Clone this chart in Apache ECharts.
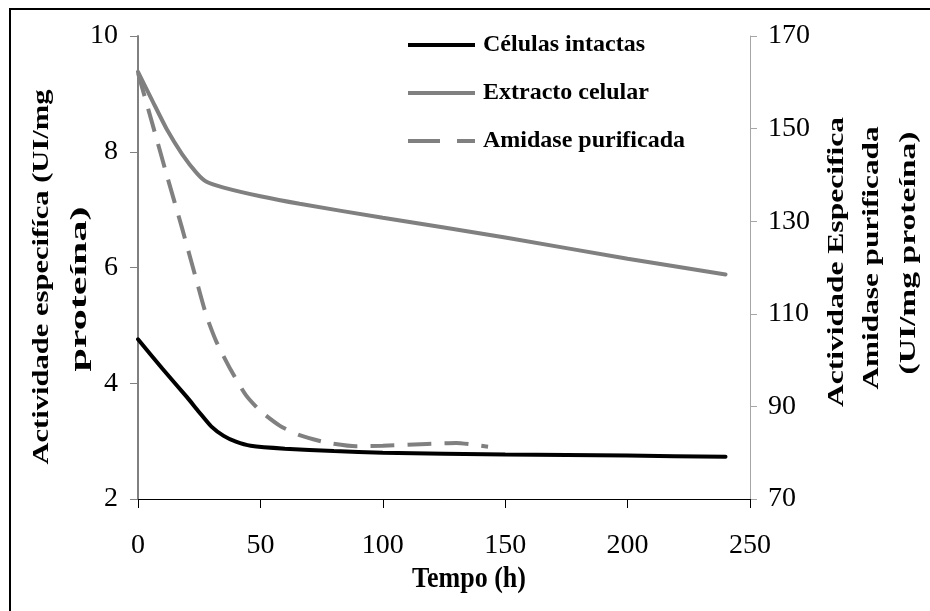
<!DOCTYPE html>
<html>
<head>
<meta charset="utf-8">
<script src="https://cdn.jsdelivr.net/npm/echarts@6/dist/echarts.min.js"></script>
<style>html,body{margin:0;padding:0;background:#fff;}#c{width:930px;height:611px;}</style>
</head>
<body>
<div id="c"></div>
<script>
// ---- data ----
const xTicks = [0, 50, 100, 150, 200, 250];
const leftTicks = [2, 4, 6, 8, 10];
const rightTicks = [70, 90, 110, 130, 150, 170];

const seriesNames = ['Células intactas', 'Extracto celular', 'Amidase purificada'];

const cellTime = [0, 10, 20, 25, 30, 35, 40, 46, 60, 80, 100, 150, 200, 240];
const cellAct  = [4.76, 4.25, 3.76, 3.5, 3.25, 3.09, 2.99, 2.92, 2.87, 2.83, 2.80, 2.77, 2.75, 2.73];

const extTime = [0, 6, 12, 18, 24, 28, 35, 50, 66, 100, 150, 200, 240];
const extAct  = [9.38, 8.87, 8.37, 7.96, 7.63, 7.48, 7.38, 7.23, 7.1, 6.86, 6.52, 6.15, 5.88];

const amiTime = [0, 6, 12, 18, 24, 28, 32, 38, 44, 50, 58, 66, 77, 89, 100, 118, 130, 136, 143];
const amiAct  = [162, 150.8, 139.5, 128.5, 117, 109.5, 104, 97.8, 92.5, 89, 85.8, 83.8, 82.2, 81.4, 81.5, 81.9, 82.1, 81.8, 81.3];

const xTitle = 'Tempo (h)';
const leftTitle = ['Actividade especifíca (UI/mg', 'proteína)'];
const rightTitle = ['Actividade Especifica', 'Amidase purificada', '(UI/mg proteína)'];

// ---- helpers ----
const pairs = (xs, ys) => xs.map((x, i) => [x, ys[i]]);
const mctx = document.createElement('canvas').getContext('2d');
function fit(text, font, target) { mctx.font = font; return target / mctx.measureText(text).width; }

const SERIF = '"Liberation Serif", "Times New Roman", serif';
const titleFont = 'bold 23px ' + SERIF;

function vText(text, x, y, len) {
  return {
    type: 'text', x: x, y: y, rotation: Math.PI / 2,
    scaleX: fit(text, titleFont, len),
    style: { text: text, font: titleFont, fill: '#000', align: 'center', verticalAlign: 'middle' }
  };
}

const chart = echarts.init(document.getElementById('c'), null, { renderer: 'canvas' });

const option = {
  backgroundColor: '#fff',
  animation: false,
  grid: { left: 138, right: 180, top: 36, bottom: 112, containLabel: false },
  legend: {
    orient: 'vertical',
    left: 408, top: 33, padding: 0,
    itemWidth: 67, itemHeight: 4, itemGap: 24,
    symbolKeepAspect: false,
    textStyle: { fontFamily: SERIF, fontWeight: 'bold', fontSize: 24, color: '#000', lineHeight: 22, padding: [0, 0, 0, 3] },
    data: [
      { name: seriesNames[0], icon: 'rect' },
      { name: seriesNames[1], icon: 'rect' },
      { name: seriesNames[2], icon: 'path://M0,0H32V4H0Z M49,0H67V4H49Z' }
    ]
  },
  xAxis: {
    type: 'value', min: 0, max: 250, interval: 50,
    axisLine: { show: true, lineStyle: { color: '#000', width: 1 } },
    axisTick: { show: true, inside: false, length: 9, lineStyle: { color: '#000' } },
    axisLabel: { margin: 33, fontFamily: SERIF, fontSize: 28, color: '#000',
      formatter: v => xTicks.indexOf(v) >= 0 ? String(v) : '' },
    splitLine: { show: false }
  },
  yAxis: [
    {
      type: 'value', min: 2, max: 10, interval: 2, position: 'left',
      axisLine: { show: true, onZero: false, lineStyle: { color: '#808080', width: 2 } },
      axisTick: { show: true, inside: false, length: 8, lineStyle: { color: '#808080' } },
      axisLabel: { margin: 20, fontFamily: SERIF, fontSize: 28, color: '#000',
        formatter: v => leftTicks.indexOf(v) >= 0 ? String(v) : '' },
      splitLine: { show: false }
    },
    {
      type: 'value', min: 70, max: 170, interval: 20, position: 'right',
      axisLine: { show: true, onZero: false, lineStyle: { color: '#a6a6a6', width: 1 } },
      axisTick: { show: true, inside: false, length: 7, lineStyle: { color: '#a6a6a6' } },
      axisLabel: { margin: 18, fontFamily: SERIF, fontSize: 28, color: '#000',
        formatter: v => rightTicks.indexOf(v) >= 0 ? String(v) : '' },
      splitLine: { show: false }
    }
  ],
  series: [
    {
      name: seriesNames[2], type: 'line', yAxisIndex: 1, showSymbol: false, symbol: 'none',
      smooth: 0.2, data: pairs(amiTime, amiAct),
      lineStyle: { color: '#808080', width: 4, type: [24, 13], cap: 'butt' },
      itemStyle: { color: '#808080' }, z: 2
    },
    {
      name: seriesNames[1], type: 'line', yAxisIndex: 0, showSymbol: false, symbol: 'none',
      smooth: 0.2, data: pairs(extTime, extAct),
      lineStyle: { color: '#808080', width: 4, cap: 'round' },
      itemStyle: { color: '#808080' }, z: 3
    },
    {
      name: seriesNames[0], type: 'line', yAxisIndex: 0, showSymbol: false, symbol: 'none',
      smooth: 0.2, data: pairs(cellTime, cellAct),
      lineStyle: { color: '#000', width: 4, cap: 'round' },
      itemStyle: { color: '#000' }, z: 4
    }
  ],
  graphic: [
    { type: 'rect', shape: { x: 10, y: 9, width: 1000, height: 1000 },
      style: { fill: 'none', stroke: '#000', lineWidth: 2 }, silent: true },
    { type: 'text', x: 469, y: 579, scaleY: 1.15,
      style: { text: xTitle, font: 'bold 26px ' + SERIF, fill: '#000', align: 'center', verticalAlign: 'middle' } },
    vText(leftTitle[0], 42, 277, 375),
    vText(leftTitle[1], 80.5, 289, 165),
    vText(rightTitle[0], 837, 262, 290),
    vText(rightTitle[1], 872.5, 258, 263),
    vText(rightTitle[2], 909.5, 253, 243)
  ]
};
chart.setOption(option);
</script>
</body>
</html>
